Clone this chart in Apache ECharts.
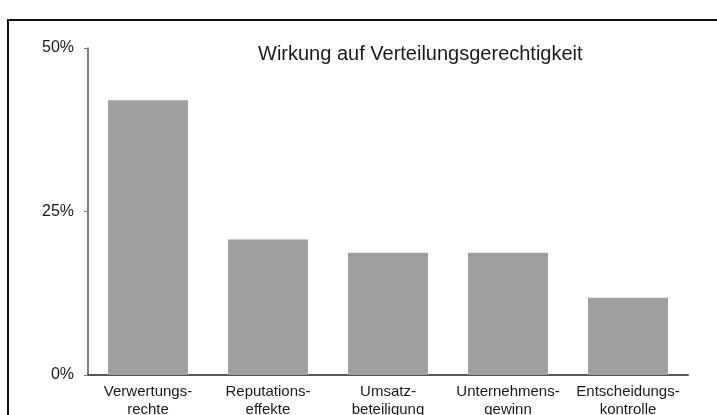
<!DOCTYPE html>
<html lang="de">
<head>
  <meta charset="UTF-8">
  <title>Wirkung auf Verteilungsgerechtigkeit</title>
  <script src="https://cdn.jsdelivr.net/npm/echarts@6/dist/echarts.min.js"></script>
  <style>
    html, body { margin: 0; padding: 0; background: #fff; }
  </style>
</head>
<body>
  <div id="chart" style="width: 717px;height: 415px;"></div>
</body>
<script>
  var categories = ['Verwertungs-\nrechte', 'Reputations-\neffekte', 'Umsatz-\nbeteiligung', 'Unternehmens-\ngewinn', 'Entscheidungs-\nkontrolle']
  var values = [42, 20.7, 18.7, 18.7, 11.8]
  var yTicks = [0, 25, 50]

  var charts = echarts.init(document.getElementById('chart'))
  var option = {
    animation: false,
    backgroundColor: '#fff',
    textStyle: { fontFamily: 'Liberation Sans, Arial, sans-serif' },
    title: {
      text: 'Wirkung auf Verteilungsgerechtigkeit',
      left: 253,
      top: 39,
      textStyle: { fontSize: 20, fontWeight: 'normal', color: '#1a1a1a' }
    },
    graphic: [{
      type: 'rect',
      shape: { x: 8, y: 20, width: 730, height: 430 },
      style: { fill: 'none', stroke: '#111', lineWidth: 2 },
      silent: true
    }],
    grid: { left: 88, right: 29, top: 48, bottom: 40, containLabel: false, outerBoundsMode: 'none' },
    xAxis: {
      type: 'category',
      data: categories,
      axisLine: { lineStyle: { color: '#555', width: 2 } },
      axisTick: { show: false },
      axisLabel: { interval: 0, hideOverlap: false, color: '#1a1a1a', fontSize: 15, lineHeight: 18, margin: 8 }
    },
    yAxis: {
      type: 'value',
      min: yTicks[0],
      max: yTicks[yTicks.length - 1],
      interval: 25,
      axisLine: { show: true, lineStyle: { color: '#555', width: 1.5 } },
      axisTick: { show: true, length: 4, lineStyle: { color: '#777' } },
      splitLine: { show: false },
      axisLabel: { color: '#1a1a1a', fontSize: 16, margin: 14, formatter: '{value}%' }
    },
    series: [{
      type: 'bar',
      data: values,
      barWidth: 80,
      itemStyle: { color: '#9f9f9f' }
    }]
  }
  charts.setOption(option)
</script>
</html>
